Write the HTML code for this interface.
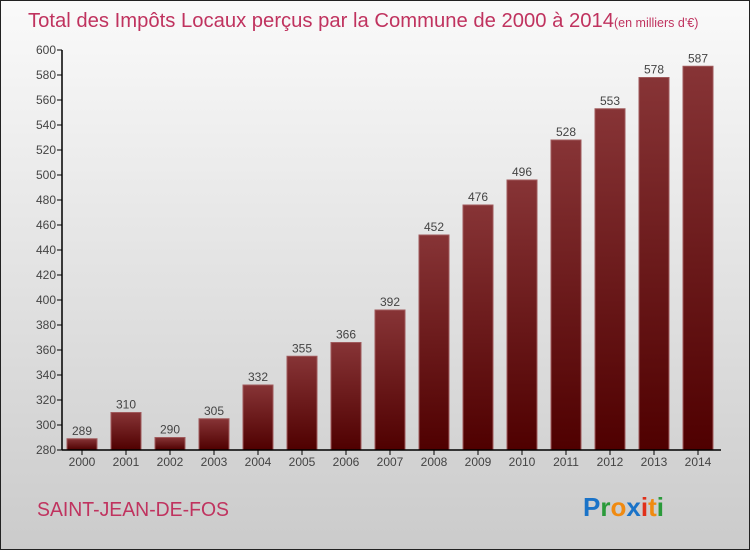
<!DOCTYPE html>
<html><head><meta charset="utf-8"><style>
body{margin:0;width:750px;height:550px;overflow:hidden}
#c{position:absolute;left:0;top:0;width:748px;height:548px;border:1px solid #222;background:linear-gradient(#fafafa,#cbcbcb)}
text{font-family:"Liberation Sans",sans-serif}
</style></head><body>
<div id="c">
<svg id="s" width="748" height="548" xmlns="http://www.w3.org/2000/svg">
<defs><linearGradient id="g" x1="0" y1="0" x2="0" y2="1"><stop offset="0" stop-color="#873436"/><stop offset="1" stop-color="#4f0000"/></linearGradient></defs>
<text x="27" y="26" font-size="20" fill="#c0335f"><tspan textLength="586" lengthAdjust="spacingAndGlyphs">Total des Impôts Locaux perçus par la Commune de 2000 à 2014</tspan><tspan font-size="12.5">(en milliers d'€)</tspan></text>
<text x="36" y="515" font-size="20" fill="#c0335f" textLength="192" lengthAdjust="spacingAndGlyphs">SAINT-JEAN-DE-FOS</text>
<text x="582" y="515" font-size="26" font-weight="bold"><tspan fill="#1a73c8">P</tspan><tspan fill="#2a9a3a">r</tspan><tspan fill="#f08a10">o</tspan><tspan fill="#1a73c8">x</tspan><tspan fill="#e0301a">i</tspan><tspan fill="#f08a10">t</tspan><tspan fill="#2a9a3a">i</tspan></text>
<g id="plot"></g>
</svg></div>
<script>
const years=["2000","2001","2002","2003","2004","2005","2006","2007","2008","2009","2010","2011","2012","2013","2014"];
const values=[289,310,290,305,332,355,366,392,452,476,496,528,553,578,587];
const ticks=[280,300,320,340,360,380,400,420,440,460,480,500,520,540,560,580,600];
const ns="http://www.w3.org/2000/svg",g=document.getElementById('plot');
const y=v=>49+(600-v)*400/320, x=i=>81+i*44;
function mk(t,a){const e=document.createElementNS(ns,t);for(const k in a)e.setAttribute(k,a[k]);g.appendChild(e);return e;}
ticks.forEach(t=>{
 const l=mk('line',{x1:56,x2:61,y1:y(t),y2:y(t),stroke:'#000'});
 
 
 const tx=mk('text',{x:55,y:y(t)+4,'font-size':12,'text-anchor':'end',fill:'#444'});tx.textContent=t;
 
 
});
values.forEach((v,i)=>{
 const r=mk('rect',{x:x(i)-15,y:y(v),width:30,height:y(280)-y(v),fill:'url(#g)',stroke:'#a05a5c','stroke-width':1});
 
 
 const t=mk('text',{x:x(i),y:y(v)-4,'font-size':12,'text-anchor':'middle',fill:'#444'});t.textContent=v;
 
 
 const tk=mk('line',{x1:x(i),x2:x(i),y1:y(280),y2:y(280)+5,stroke:'#000'});
 
 
 const yl=mk('text',{x:x(i),y:y(280)+16,'font-size':12,'text-anchor':'middle',fill:'#444'});yl.textContent=years[i];
 
 
});
const ax=mk('line',{x1:61,x2:61,y1:y(600),y2:y(280),stroke:'#000','stroke-width':1.5});


const bx=mk('line',{x1:61,x2:720,y1:y(280),y2:y(280),stroke:'#000','stroke-width':1.5});


</script>
</body></html>
